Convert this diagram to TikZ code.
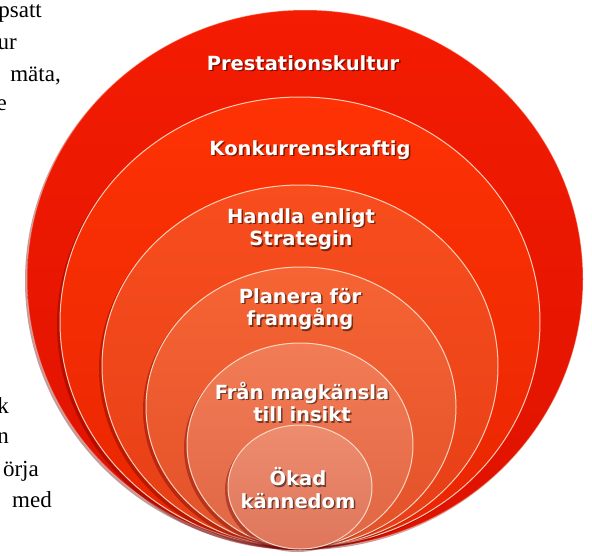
\documentclass[tikz,border=0pt]{standalone}
\usepackage{fontspec}
\setmainfont{Liberation Serif}
\newfontfamily\ringfont{DejaVu Sans}
\usepackage{xcolor}
\usepackage{tikz}

\definecolor{ringA}{RGB}{244,28,2}
\definecolor{ringAd}{RGB}{222,18,0}
\definecolor{ringB}{RGB}{254,50,4}
\definecolor{ringBd}{RGB}{232,38,2}
\definecolor{ringC}{RGB}{248,78,30}
\definecolor{ringCd}{RGB}{230,62,22}
\definecolor{ringD}{RGB}{246,100,52}
\definecolor{ringDd}{RGB}{226,82,42}
\definecolor{ringE}{RGB}{242,124,86}
\definecolor{ringEd}{RGB}{224,102,68}
\definecolor{ringF}{RGB}{238,140,110}
\definecolor{ringFd}{RGB}{222,118,92}
\definecolor{edgeglow}{RGB}{255,232,214}

\begin{document}
\begin{tikzpicture}[x=1pt,y=-1pt,
	ringshadow/.style={fill=black!55!red,opacity=.4},
	ringedge/.style={draw=edgeglow,line width=1pt,opacity=.85},
	ringtext/.style={font=\ringfont\bfseries\fontsize{19.5}{22.5}\selectfont,
		text=white,align=center,inner sep=0pt},
	ringshade/.style={font=\ringfont\bfseries\fontsize{19.5}{22.5}\selectfont,
		text=black,opacity=.5,align=center,inner sep=0pt},
	sidetext/.style={font=\fontsize{23}{27}\selectfont,anchor=base east,inner sep=0pt}]
	
	\useasboundingbox (0,0) rectangle (592,555);
	\clip (0,0) rectangle (592,555);
	
	\coordinate (C1) at (305,279); % outer ring
	\coordinate (C2) at (300,322);
	\coordinate (C3) at (300,366);
	\coordinate (C4) at (301,407);
	\coordinate (C5) at (300,445);
	\coordinate (C6) at (300,487); % inner ring
	
	\coordinate (L1) at (303,63);
	\coordinate (L2) at (310,150);
	\coordinate (L3) at (301,229);
	\coordinate (L4) at (300,309);
	\coordinate (L5) at (302,402);
	\coordinate (L6) at (298,488);
	
	% text cut off at the left margin
	\path
		(42,17) node[sidetext] (s1) {psatt}
		(17,49) node[sidetext] (s2) {ur}
		(61,81) node[sidetext] (s3) {mäta,}
		(7,110) node[sidetext] (s4) {e}
		(9,413) node[sidetext] (s5) {k}
		(9,443) node[sidetext] (s6) {n}
		(39,476) node[sidetext] (s7) {örja}
		(52,507) node[sidetext] (s8) {med};
	
	% rings, outer first
	\fill[ringshadow] (C1)++(-2,2) ellipse [x radius=278,y radius=269];
	\shade[top color=ringA,bottom color=ringAd] (C1) ellipse [x radius=278,y radius=269];
	\draw[ringedge,opacity=.35] (C1) ellipse [x radius=278,y radius=269];
	
	\fill[ringshadow] (C2)++(-3,3) ellipse [x radius=240,y radius=225];
	\shade[top color=ringB,bottom color=ringBd] (C2) ellipse [x radius=240,y radius=225];
	\draw[ringedge] (C2) ellipse [x radius=240,y radius=225];
	
	\fill[ringshadow] (C3)++(-3,3) ellipse [x radius=198,y radius=181];
	\shade[top color=ringC,bottom color=ringCd] (C3) ellipse [x radius=198,y radius=181];
	\draw[ringedge] (C3) ellipse [x radius=198,y radius=181];
	
	\fill[ringshadow] (C4)++(-3,3) ellipse [x radius=155,y radius=140];
	\shade[top color=ringD,bottom color=ringDd] (C4) ellipse [x radius=155,y radius=140];
	\draw[ringedge] (C4) ellipse [x radius=155,y radius=140];
	
	\fill[ringshadow] (C5)++(-3,3) ellipse [x radius=113,y radius=102];
	\shade[top color=ringE,bottom color=ringEd] (C5) ellipse [x radius=113,y radius=102];
	\draw[ringedge] (C5) ellipse [x radius=113,y radius=102];
	
	\fill[ringshadow] (C6)++(-3,3) ellipse [x radius=72,y radius=62];
	\shade[top color=ringF,bottom color=ringFd] (C6) ellipse [x radius=72,y radius=62];
	\draw[ringedge] (C6) ellipse [x radius=72,y radius=62];
	
	% labels with a soft shadow
	\path
		(L1)++(1.5,1.5) node[ringshade] {Prestationskultur}
		(L2)++(1.5,1.5) node[ringshade] {Konkurrenskraftig}
		(L3)++(1.5,1.5) node[ringshade] {Handla enligt\\Strategin}
		(L4)++(1.5,1.5) node[ringshade] {Planera för\\framgång}
		(L5)++(1.5,1.5) node[ringshade] {Från magkänsla\\till insikt}
		(L6)++(1.5,1.5) node[ringshade] {Ökad\\kännedom};
	\node[ringtext] (t1) at (L1) {Prestationskultur};
	\node[ringtext] (t2) at (L2) {Konkurrenskraftig};
	\node[ringtext] (t3) at (L3) {Handla enligt\\Strategin};
	\node[ringtext] (t4) at (L4) {Planera för\\framgång};
	\node[ringtext] (t5) at (L5) {Från magkänsla\\till insikt};
	\node[ringtext] (t6) at (L6) {Ökad\\kännedom};
	
\end{tikzpicture}
\end{document}
